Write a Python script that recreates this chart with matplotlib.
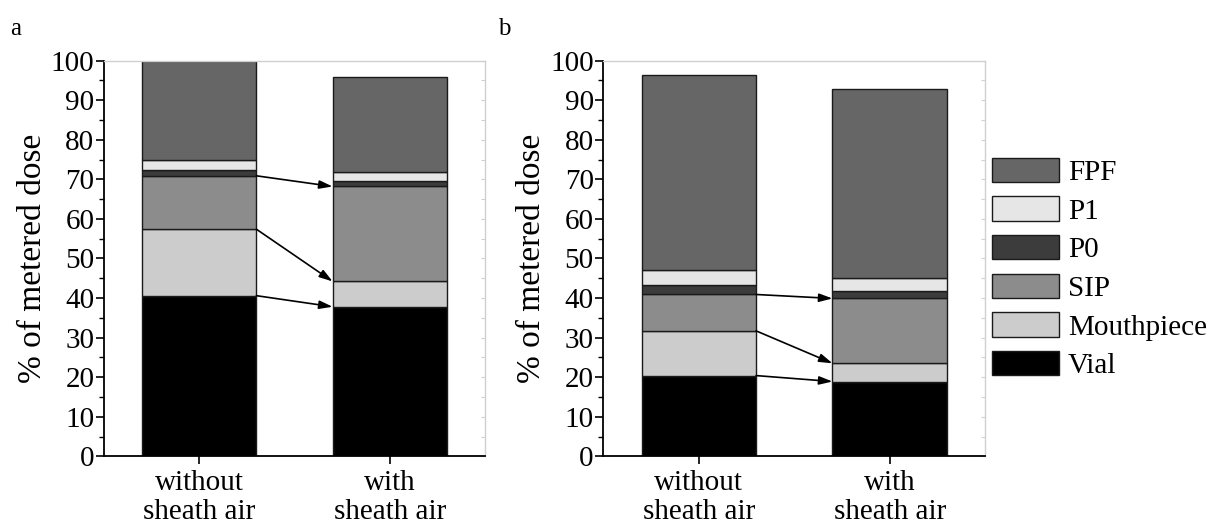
import numpy as np
import matplotlib.pyplot as plt
from matplotlib.ticker import MultipleLocator
from matplotlib.patches import Patch

# data (% of metered dose)
conditions = ["without\nsheath air", "with\nsheath air"]
stages = ["Vial", "Mouthpiece", "SIP", "P0", "P1", "FPF"]
colors = ["#000000", "#cccccc", "#8c8c8c", "#3c3c3c", "#e6e6e6", "#666666"]

# panel a
vial_a = [40.6, 37.8]
mouth_a = [16.8, 6.4]
sip_a = [13.5, 24.0]
p0_a = [1.4, 1.4]
p1_a = [2.5, 2.3]
fpf_a = [25.2, 23.9]

# panel b
vial_b = [20.4, 18.9]
mouth_b = [11.3, 4.6]
sip_b = [9.2, 16.4]
p0_b = [2.3, 1.9]
p1_b = [3.9, 3.3]
fpf_b = [49.2, 47.8]

plt.rcParams['font.family'] = ['Liberation Serif', 'DejaVu Serif']
plt.rcParams['font.size'] = 21

fig = plt.figure(figsize=(12.15, 5.31), dpi=100)
ax_a = fig.add_axes([0.0856, 0.1407, 0.3136, 0.745])
ax_b = fig.add_axes([0.4966, 0.1407, 0.3143, 0.745])

width = 0.6
x = np.arange(len(conditions))


def draw_panel(ax, segs):
    bottom = np.zeros(len(conditions))
    tops = []
    for vals, col in zip(segs, colors):
        vals = np.array(vals)
        ax.bar(x, vals, width, bottom=bottom, color=col, edgecolor="#1a1a1a", linewidth=1.0)
        bottom = bottom + vals
        tops.append(bottom.copy())
    # arrows linking the Vial, Mouthpiece and SIP tops
    for t in tops[:3]:
        ax.annotate("", xy=(x[1] - width / 2, t[1]), xytext=(x[0] + width / 2, t[0]),
                    arrowprops=dict(arrowstyle="-|>,head_length=0.8,head_width=0.25",
                                    color="black", lw=1.2,
                                    mutation_scale=10, shrinkA=0, shrinkB=0))
    ax.set_xlim(-0.5, 1.5)
    ax.set_ylim(0, 100)
    ax.set_xticks(x)
    ax.set_xticklabels(conditions, linespacing=1.15)
    ax.yaxis.set_major_locator(MultipleLocator(10))
    ax.yaxis.set_minor_locator(MultipleLocator(5))
    ax.tick_params(axis='y', which='major', direction='out', length=6, width=1.2, pad=1)
    ax.tick_params(axis='y', which='minor', direction='out', length=3.5, width=1.0)
    ax.tick_params(axis='x', direction='out', length=6, width=1.2, pad=4)
    ax.set_ylabel("% of metered dose", fontsize=24, labelpad=2)
    for s in ["left", "bottom"]:
        ax.spines[s].set_linewidth(1.3)
    for s in ["right", "top"]:
        ax.spines[s].set_color("#d0d0d0")
        ax.spines[s].set_linewidth(1.0)
    # faint ticks on the right side
    sec = ax.secondary_yaxis("right")
    sec.yaxis.set_major_locator(MultipleLocator(5))
    sec.tick_params(direction='in', length=3, color="#d0d0d0", labelright=False)
    sec.spines["right"].set_visible(False)


draw_panel(ax_a, [vial_a, mouth_a, sip_a, p0_a, p1_a, fpf_a])
draw_panel(ax_b, [vial_b, mouth_b, sip_b, p0_b, p1_b, fpf_b])

fig.text(0.008, 0.935, "a", fontsize=18)
fig.text(0.41, 0.935, "b", fontsize=18)

handles = [Patch(facecolor=c, edgecolor="#1a1a1a", linewidth=1.0) for c in colors][::-1]
fig.legend(handles, stages[::-1], loc="upper left", bbox_to_anchor=(0.807, 0.725),
           frameon=False, handlelength=2.3, handleheight=0.9, labelspacing=0.36,
           handletextpad=0.3, fontsize=21, borderaxespad=0)

fig.savefig("out.png", dpi=100)
